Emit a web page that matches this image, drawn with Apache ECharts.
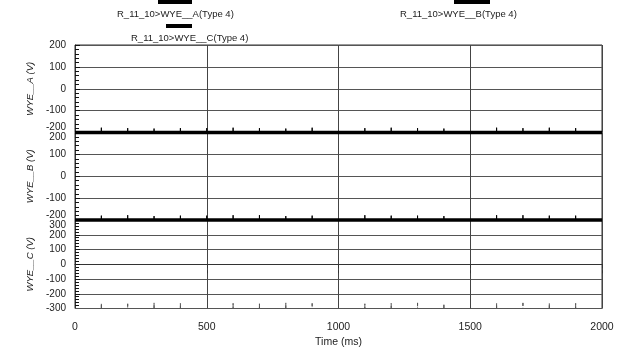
<!DOCTYPE html>
<html>
<head>
<meta charset="utf-8">
<script src="https://cdn.jsdelivr.net/npm/echarts@6/dist/echarts.min.js"></script>
<style>html,body{margin:0;padding:0;background:#fff}#c{width:622px;height:351px}</style>
</head>
<body>
<div id="c"></div>
<script>
// ---- data ----
const seriesNames = ['R_11_10>WYE__A(Type 4)', 'R_11_10>WYE__B(Type 4)', 'R_11_10>WYE__C(Type 4)'];
const axisNames = ['WYE__A (V)', 'WYE__B (V)', 'WYE__C (V)'];
const xTicks = [0, 500, 1000, 1500, 2000];
const yTicksA = [-200, -100, 0, 100, 200];
const yTicksB = [-200, -100, 0, 100, 200];
const yTicksC = [-300, -200, -100, 0, 100, 200, 300];
// spike times (ms) seen on each trace
const spikeTimesA = [100, 200, 300, 400, 500, 600, 700, 800, 900, 1100, 1200, 1300, 1400, 1600, 1700, 1800, 1900];
const spikeTimesB = [100, 200, 300, 400, 500, 600, 700, 800, 900, 1100, 1200, 1300, 1400, 1600, 1700, 1800, 1900];
const spikeTimesC = [100, 200, 300, 400, 600, 700, 800, 900, 1100, 1200, 1300, 1400, 1600, 1700, 1800, 1900];
// baseline level and spike peak values (V)
const baseA = -200, baseB = -200, baseC = -300;
const peakA = [-178, -180, -182, -180, -180, -178, -180, -182, -178, -180, -178, -180, -182, -178, -180, -178, -180];
const peakB = [-180, -178, -182, -180, -180, -178, -178, -182, -180, -178, -180, -180, -182, -178, -178, -180, -180];
const peakC = [-265, -268, -262, -265, -265, -268, -262, -265, -268, -265, -262, -268, -265, -262, -265, -265];

function trace(times, base, peaks) {
  const pts = [[0, base]];
  times.forEach((t, i) => { pts.push([t, base], [t, peaks[i]], [t, base]); });
  pts.push([2000, base]);
  return pts;
}

const FONT = 'Liberation Sans, Arial, sans-serif';
const ink = '#222';
const tops = [45, 132.5, 220];
const heights = [87.5, 87.5, 88.5];
const yTickSets = [yTicksA, yTicksB, yTicksC];
const bases = [baseA, baseB, baseC];

const grids = tops.map((t, i) => ({
  left: 75, right: 20, top: t, height: heights[i],
  show: true, borderColor: '#333', borderWidth: 1, backgroundColor: 'transparent'
}));

const xAxes = [0, 1, 2].map(i => ({
  type: 'value', gridIndex: i, min: xTicks[0], max: xTicks[xTicks.length - 1], interval: 500,
  axisLine: { show: i === 2, lineStyle: { color: '#333' } },
  axisTick: { show: i === 2, length: 9, lineStyle: { color: '#333', type: 'dashed' } },
  axisLabel: { show: i === 2, color: ink, fontFamily: FONT, fontSize: 10.5, margin: 13,
    formatter: v => String(v) },
  splitLine: { show: true, lineStyle: { color: '#444', width: 1 } },
  name: i === 2 ? 'Time (ms)' : '', nameLocation: 'middle', nameGap: 28,
  nameTextStyle: { color: ink, fontFamily: FONT, fontSize: 10.5 }
}));

const yAxes = [0, 1, 2].map(i => {
  const ticks = yTickSets[i];
  return {
    type: 'value', gridIndex: i, min: ticks[0], max: ticks[ticks.length - 1], interval: 100,
    axisLine: { show: true, onZero: false, lineStyle: { color: '#333' } },
    axisTick: { show: true, inside: true, length: 5, lineStyle: { color: '#111' } },
    minorTick: { show: true, splitNumber: 5, length: 4, lineStyle: { color: '#111', width: 1 } },
    axisLabel: {
      color: ink, fontFamily: FONT, fontSize: 10, margin: 9,
      showMinLabel: true, showMaxLabel: i < 2,
      verticalAlignMinLabel: i < 2 ? 'bottom' : 'middle',
      verticalAlignMaxLabel: i === 1 ? 'top' : 'middle'
    },
    splitLine: { show: true, lineStyle: { color: '#555', width: 1 } },
    name: axisNames[i], nameLocation: 'middle', nameGap: 22, nameRotate: 90,
    nameTextStyle: { color: ink, fontFamily: FONT, fontSize: 9.5, fontStyle: 'italic' }
  };
});
// extra label-only axis for the top label of the third panel (overlaps its neighbour in the original)
yAxes.push({
  type: 'value', gridIndex: 2, min: yTicksC[0], max: yTicksC[yTicksC.length - 1], interval: 100,
  position: 'left',
  axisLine: { show: false }, axisTick: { show: false }, splitLine: { show: false },
  axisLabel: {
    color: ink, fontFamily: FONT, fontSize: 10, margin: 9,
    showMinLabel: false, showMaxLabel: true, verticalAlignMaxLabel: 'top',
    formatter: v => (v === yTicksC[yTicksC.length - 1] ? String(v) : '')
  }
});

const traces = [trace(spikeTimesA, baseA, peakA), trace(spikeTimesB, baseB, peakB), trace(spikeTimesC, baseC, peakC)];

const series = [];
[0, 1].forEach(i => {
  series.push({
    name: seriesNames[i] + ' level', type: 'line', xAxisIndex: i, yAxisIndex: i,
    data: [[xTicks[0], bases[i]], [xTicks[xTicks.length - 1], bases[i]]],
    showSymbol: false, symbol: 'none', clip: false, animation: false, silent: true,
    lineStyle: { color: '#000', width: 3.5 }
  });
});
traces.forEach((d, i) => {
  series.push({
    name: seriesNames[i], type: 'line', xAxisIndex: i, yAxisIndex: i,
    data: d, showSymbol: false, symbol: 'none', clip: false, animation: false,
    lineStyle: { color: i === 2 ? '#555' : '#000', width: 1, type: i === 2 ? [6, 2] : 'solid' }
  });
});

const legendGraphics = [
  { type: 'rect', shape: { x: 158, y: 0, width: 34, height: 4 }, style: { fill: '#000' } },
  { type: 'text', left: 117, top: 9, style: { text: seriesNames[0], fill: ink, font: '9.5px ' + FONT } },
  { type: 'rect', shape: { x: 454, y: 0, width: 36, height: 4 }, style: { fill: '#000' } },
  { type: 'text', left: 400, top: 9, style: { text: seriesNames[1], fill: ink, font: '9.5px ' + FONT } },
  { type: 'rect', shape: { x: 166, y: 24, width: 26, height: 4 }, style: { fill: '#000' } },
  { type: 'text', left: 131, top: 33, style: { text: seriesNames[2], fill: ink, font: '9.5px ' + FONT } }
];

const chart = echarts.init(document.getElementById('c'), null, { renderer: 'canvas' });
chart.setOption({
  backgroundColor: '#fff',
  animation: false,
  grid: grids, xAxis: xAxes, yAxis: yAxes, series: series,
  graphic: legendGraphics
});
</script>
</body>
</html>
